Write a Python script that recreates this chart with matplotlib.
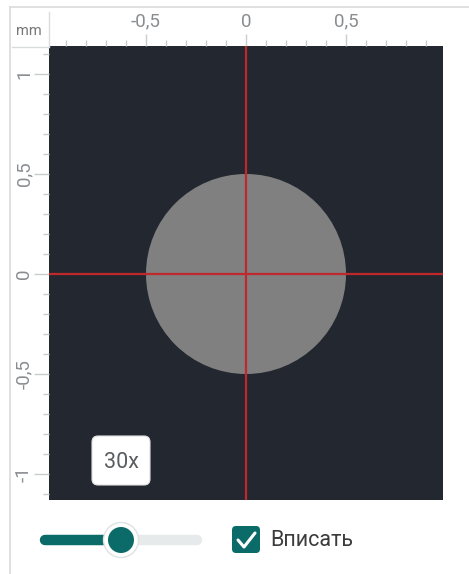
import matplotlib
matplotlib.use("Agg")
import matplotlib.pyplot as plt
from matplotlib.patches import Circle, FancyBboxPatch
from matplotlib.lines import Line2D
import numpy as np

plt.rcParams['font.family'] = ['Roboto', 'DejaVu Sans']

# ---- data ----
x_limits = [-0.985, 0.985]
y_limits = [-1.13, 1.14]
x_major_ticks = [-0.5, 0.0, 0.5]
x_major_labels = ["-0,5", "0", "0,5"]
y_major_ticks = [-1.0, -0.5, 0.0, 0.5, 1.0]
y_major_labels = ["-1", "-0,5", "0", "0,5", "1"]
x_minor_ticks = [round(v, 1) for v in np.arange(-0.9, 0.91, 0.1)]
y_minor_ticks = [round(v, 1) for v in np.arange(-1.1, 1.11, 0.1)]
circle_center = (0.0, 0.0)
circle_radius = 0.5
zoom_label = "30x"
unit_label = "mm"
fit_label = "Вписать"
slider_fraction = 0.5

W, H = 469, 574
fig = plt.figure(figsize=(W / 100, H / 100), dpi=100)
fig.patch.set_facecolor("white")

def px(x0, y0, x1, y1):
    return [x0 / W, 1 - y1 / H, (x1 - x0) / W, (y1 - y0) / H]

# main axes
ax = fig.add_axes(px(49, 46, 443, 500))
ax.set_facecolor("#232830")
ax.add_patch(Circle(circle_center, circle_radius, facecolor="#808080", edgecolor="none", zorder=2))
ax.axhline(0, color="#c0282d", lw=1.6, zorder=3)
ax.axvline(0, color="#c0282d", lw=1.6, zorder=3)
for s in ax.spines.values():
    s.set_visible(False)

ax.xaxis.tick_top()
ax.set_xticks(x_major_ticks)
ax.set_xticklabels(x_major_labels)
ax.set_yticks(y_major_ticks)
ax.set_yticklabels(y_major_labels, rotation=90, va="center")
ax.set_xticks(x_minor_ticks, minor=True)
ax.set_yticks(y_minor_ticks, minor=True)
ax.set_xlim(*x_limits)
ax.set_ylim(*y_limits)
tick_col = "#c8cccc"
lab_col = "#8a8d90"
ax.tick_params(axis="x", which="major", length=8.5, width=1, color=tick_col,
               labelcolor=lab_col, labelsize=13.5, pad=2.5)
ax.tick_params(axis="y", which="major", length=10.5, width=1, color=tick_col,
               labelcolor=lab_col, labelsize=13.5, pad=1)
ax.tick_params(which="minor", length=4, width=1, color=tick_col)

# overlay for UI decoration (pixel coordinates)
ov = fig.add_axes([0, 0, 1, 1])
ov.set_zorder(10)
ov.patch.set_alpha(0)
ov.set_xlim(0, W)
ov.set_ylim(H, 0)
ov.axis("off")

border = "#d9dcdc"
ov.add_line(Line2D([10, W], [7, 7], color=border, lw=1.2))
ov.add_line(Line2D([10, 10], [7, H], color=border, lw=1.2))
ov.add_line(Line2D([12, 49], [47, 47], color=border, lw=1.0))
ov.add_line(Line2D([49, 49], [12, 46], color=border, lw=1.0))
ov.text(29, 31, unit_label, ha="center", va="center", fontsize=10.5, color="#777777")

# zoom label box
ov.add_patch(FancyBboxPatch((92, 436), 58, 49, boxstyle="round,pad=0,rounding_size=6",
                            facecolor="white", edgecolor="#e0e0e0", lw=0.8, zorder=5))
ov.text(121, 462, zoom_label, ha="center", va="center", fontsize=15.5, color="#5a5d60", zorder=6)

# slider
teal = "#0b6b68"
x0s, x1s, ys = 45, 197, 540
xk = x0s + slider_fraction * (x1s - x0s)
ov.add_line(Line2D([x0s, x1s], [ys, ys], color="#e6eaea", lw=7.5, solid_capstyle="round"))
ov.add_line(Line2D([x0s, xk], [ys, ys], color=teal, lw=7.5, solid_capstyle="round"))
ov.add_patch(Circle((xk, ys), 17.5, facecolor="white", edgecolor="#dde2e2", lw=1.0, zorder=4))
ov.add_patch(Circle((xk, ys), 13, facecolor=teal, edgecolor="none", zorder=5))

# checkbox
ov.add_patch(FancyBboxPatch((232, 526), 28, 27, boxstyle="round,pad=0,rounding_size=4",
                            facecolor=teal, edgecolor="none", zorder=4))
ov.add_line(Line2D([238, 244, 255], [540, 547, 533], color="white", lw=2.2, zorder=5,
                   solid_capstyle="round", solid_joinstyle="round"))
ov.text(270, 541, fit_label, ha="left", va="center", fontsize=15.5, color="#3c3c3c")

fig.savefig("out.png", dpi=100)
